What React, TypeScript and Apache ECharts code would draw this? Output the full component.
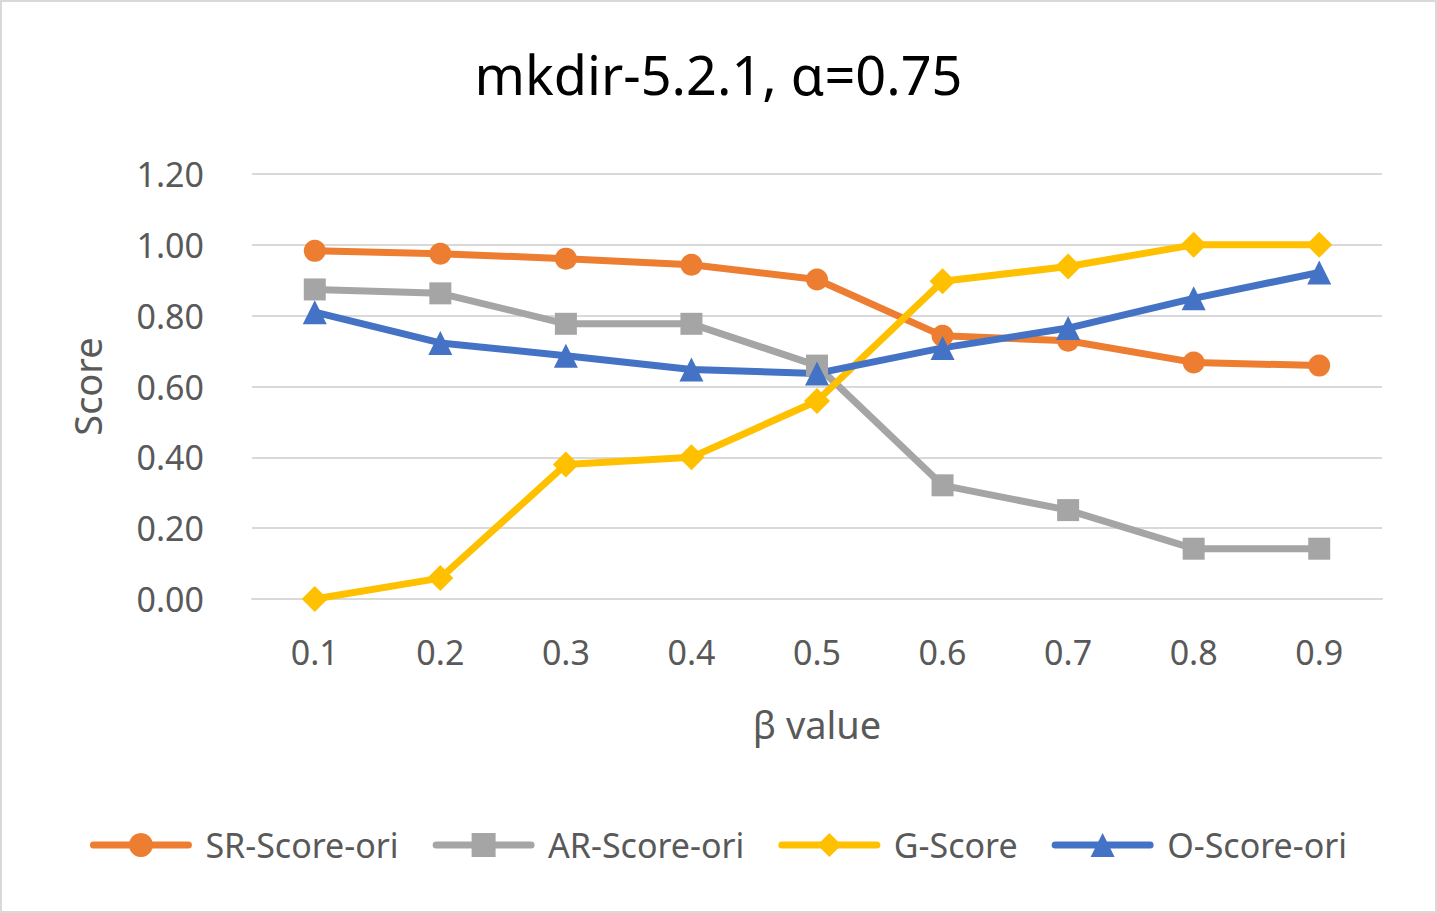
import React, { useEffect, useRef } from 'react';
import * as echarts from 'echarts';

const betaValues = ['0.1', '0.2', '0.3', '0.4', '0.5', '0.6', '0.7', '0.8', '0.9'];
const srScore = [0.983, 0.975, 0.961, 0.944, 0.902, 0.743, 0.729, 0.668, 0.659];
const arScore = [0.874, 0.863, 0.777, 0.777, 0.659, 0.321, 0.251, 0.142, 0.142];
const gScore = [0.0, 0.059, 0.38, 0.4, 0.559, 0.897, 0.939, 1.0, 1.0];
const oScore = [0.81, 0.723, 0.687, 0.648, 0.637, 0.709, 0.765, 0.849, 0.922];

const FONT = '"Noto Sans", sans-serif';

const App: React.FC = () => {
  const chartRef = useRef<HTMLDivElement | null>(null);

  useEffect(() => {
    if (!chartRef.current) return;
    const myChart = echarts.init(chartRef.current, undefined, { renderer: 'svg' });

    const line = (name: string, data: number[], color: string, symbol: string, size: number | number[]) => ({
      name,
      type: 'line',
      data,
      symbol,
      symbolSize: size,
      lineStyle: { color, width: 7 },
      itemStyle: { color },
    });

    const option = {
      animation: false,
      backgroundColor: '#ffffff',
      textStyle: { fontFamily: FONT },
      title: {
        text: 'mkdir-5.2.1, α=0.75',
        left: 'center',
        top: 40,
        textStyle: { fontSize: 54, fontWeight: 'normal', color: '#000000', fontFamily: FONT },
      },
      legend: {
        bottom: 44,
        left: 'center',
        itemWidth: 95,
        itemHeight: 30,
        itemGap: 34,
        lineStyle: { width: 7, cap: 'round' },
        textStyle: { fontSize: 34, color: '#595959', fontFamily: FONT, padding: [0, 0, 0, 12] },
        data: ['SR-Score-ori', 'AR-Score-ori', 'G-Score', 'O-Score-ori'],
      },
      grid: { left: 250, right: 53, top: 172, bottom: 312 },
      xAxis: {
        type: 'category',
        data: betaValues,
        boundaryGap: true,
        name: 'β value',
        nameLocation: 'middle',
        nameGap: 106,
        nameTextStyle: { fontSize: 38, color: '#595959', fontFamily: FONT },
        axisLine: { lineStyle: { color: '#d9d9d9', width: 2 } },
        axisTick: { show: false },
        axisLabel: { fontSize: 34, color: '#595959', margin: 36, fontFamily: FONT },
      },
      yAxis: {
        type: 'value',
        min: 0,
        max: 1.2,
        interval: 0.2,
        name: 'Score',
        nameLocation: 'middle',
        nameGap: 146,
        nameTextStyle: { fontSize: 38, color: '#595959', fontFamily: FONT },
        axisLine: { show: false },
        axisTick: { show: false },
        axisLabel: {
          fontSize: 34,
          color: '#595959',
          margin: 48,
          fontFamily: FONT,
          formatter: (v: number) => v.toFixed(2),
        },
        splitLine: { lineStyle: { color: '#d9d9d9', width: 2 } },
      },
      series: [
        line('SR-Score-ori', srScore, '#ed7d31', 'circle', 22),
        line('AR-Score-ori', arScore, '#a5a5a5', 'rect', 22),
        line('G-Score', gScore, '#ffc000', 'diamond', [26, 26]),
        line('O-Score-ori', oScore, '#4472c4', 'triangle', 24),
      ],
    };

    myChart.setOption(option);
    return () => {
      myChart.dispose();
    };
  }, []);

  return (
    <div
      ref={chartRef}
      style={{
        position: 'absolute',
        left: 0,
        top: 0,
        width: 1437,
        height: 913,
        boxSizing: 'border-box',
        border: '2px solid #d9d9d9',
        backgroundColor: 'white',
      }}
    />
  );
};

export default App;
